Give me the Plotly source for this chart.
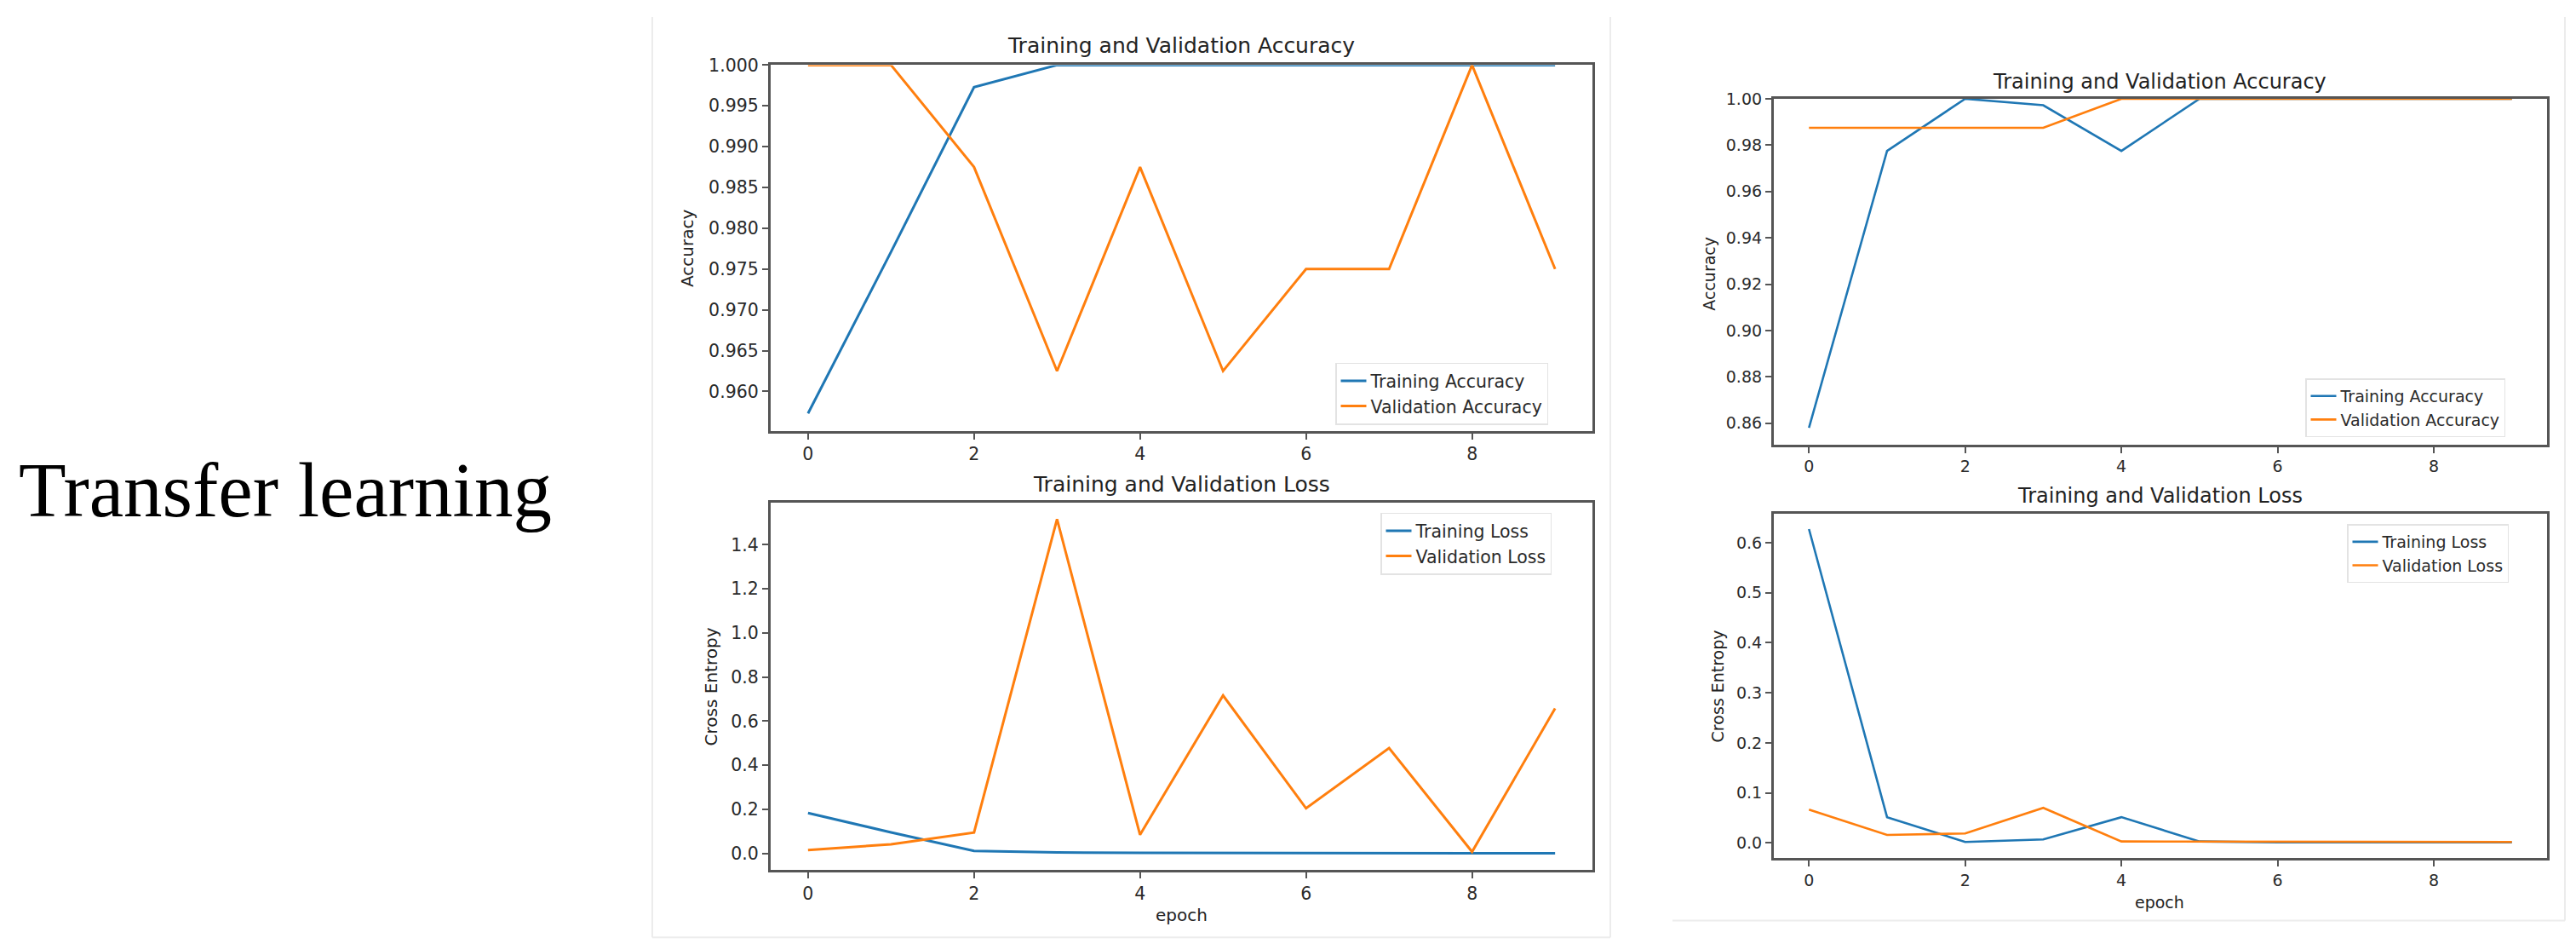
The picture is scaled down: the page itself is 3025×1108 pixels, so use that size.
import plotly.graph_objects as go

W, H = 3025, 1108

epochs = list(range(10))

# left panel (first model)
left_train_acc = [0.9573, 0.9771, 0.9973, 1.0, 1.0, 1.0, 1.0, 1.0, 1.0, 1.0]
left_val_acc = [1.0, 1.0, 0.9875, 0.9625, 0.9875, 0.9625, 0.975, 0.975, 1.0, 0.975]
left_train_loss = [0.183, 0.095, 0.011, 0.004, 0.002, 0.001, 0.001, 0.001, 0.0005, 0.0004]
left_val_loss = [0.015, 0.041, 0.094, 1.516, 0.084, 0.716, 0.204, 0.477, 0.007, 0.657]

# right panel (second model)
right_train_acc = [0.858, 0.9775, 1.0, 0.9972, 0.9775, 1.0, 1.0, 1.0, 1.0, 1.0]
right_val_acc = [0.9875, 0.9875, 0.9875, 0.9875, 1.0, 1.0, 1.0, 1.0, 1.0, 1.0]
right_train_loss = [0.627, 0.0515, 0.002, 0.007, 0.0515, 0.003, 0.001, 0.001, 0.001, 0.001]
right_val_loss = [0.0666, 0.016, 0.019, 0.070, 0.003, 0.003, 0.002, 0.002, 0.002, 0.002]

acc_ticks_left = [0.960, 0.965, 0.970, 0.975, 0.980, 0.985, 0.990, 0.995, 1.000]
loss_ticks_left = [0.0, 0.2, 0.4, 0.6, 0.8, 1.0, 1.2, 1.4]
acc_ticks_right = [0.86, 0.88, 0.90, 0.92, 0.94, 0.96, 0.98, 1.00]
loss_ticks_right = [0.0, 0.1, 0.2, 0.3, 0.4, 0.5, 0.6]
x_ticks = [0, 2, 4, 6, 8]

BLUE = "#1f77b4"
ORANGE = "#ff7f0e"
AXC = "#555555"


def px_x(v):
    return v / W


def px_y(v):
    return 1 - v / H


def auto_range(*series, top=None):
    lo = min(min(s) for s in series)
    hi = max(max(s) for s in series)
    pad = (hi - lo) * 0.05
    return [lo - pad, top if top is not None else hi + pad]


fig = go.Figure()

# panels: (axis id, box in pixels, data, legend names, legend id, line width)
panels = [
    ("", (897, 1862, 57, 491), left_train_acc, left_val_acc,
     ["Training Accuracy", "Validation Accuracy"], "legend", 3),
    ("2", (897, 1862, 576, 1012), left_train_loss, left_val_loss,
     ["Training Loss", "Validation Loss"], "legend2", 3),
    ("3", (2075, 2983, 97, 507), right_train_acc, right_val_acc,
     ["Training Accuracy", "Validation Accuracy"], "legend3", 2.6),
    ("4", (2075, 2983, 589, 998), right_train_loss, right_val_loss,
     ["Training Loss", "Validation Loss"], "legend4", 2.6),
]

for ax, box, tr, va, names, leg, lw in panels:
    fig.add_trace(go.Scatter(x=epochs, y=tr, mode="lines", name=names[0],
                             line=dict(color=BLUE, width=lw),
                             xaxis="x" + ax, yaxis="y" + ax, legend=leg))
    fig.add_trace(go.Scatter(x=epochs, y=va, mode="lines", name=names[1],
                             line=dict(color=ORANGE, width=lw),
                             xaxis="x" + ax, yaxis="y" + ax, legend=leg))

axis_common = dict(showline=True, mirror=True, linecolor=AXC, linewidth=3.2,
                   ticks="outside", ticklen=7, tickwidth=1.5, tickcolor=AXC,
                   showgrid=False, zeroline=False, layer="above traces")

layout = dict(width=W, height=H, margin=dict(l=0, r=0, t=0, b=0),
              paper_bgcolor="white", plot_bgcolor="white",
              font=dict(family="DejaVu Sans", color="#2b2b2b"))

specs = [
    (acc_ticks_left, ".3f", auto_range(left_train_acc, left_val_acc, top=1.0), 20.5),
    (loss_ticks_left, ".1f", auto_range(left_train_loss, left_val_loss), 20.5),
    (acc_ticks_right, ".2f", auto_range(right_train_acc, right_val_acc, top=1.0), 19),
    (loss_ticks_right, ".1f", auto_range(right_train_loss, right_val_loss), 19),
]

for (ax, box, tr, va, names, leg, lw), (yt, fmt, yr, fs) in zip(panels, specs):
    x0, x1, y0, y1 = box
    layout["xaxis" + ax] = dict(axis_common, domain=[px_x(x0), px_x(x1)],
                                anchor="y" + ax, range=[-0.45, 9.45],
                                tickvals=x_ticks, tickfont=dict(size=fs))
    layout["yaxis" + ax] = dict(axis_common, domain=[px_y(y1), px_y(y0)],
                                anchor="x" + ax, range=yr, tickvals=yt,
                                tickformat=fmt, tickfont=dict(size=fs))

legend_style = dict(xanchor="left", yanchor="top", bgcolor="rgba(255,255,255,0.85)",
                    bordercolor="#e3e3e3", borderwidth=1.5, tracegroupgap=2)
layout["legend"] = dict(legend_style, x=px_x(1560), y=px_y(410), font=dict(size=20.5))
layout["legend2"] = dict(legend_style, x=px_x(1613), y=px_y(588), font=dict(size=20.5))
layout["legend3"] = dict(legend_style, x=px_x(2699), y=px_y(429), font=dict(size=19))
layout["legend4"] = dict(legend_style, x=px_x(2748), y=px_y(602), font=dict(size=19))

fig.update_layout(**layout)

annotations = [
    # subplot titles
    ("Training and Validation Accuracy", 1379, 34, 25, 0),
    ("Training and Validation Loss", 1379, 554, 25, 0),
    ("Training and Validation Accuracy", 2528, 77, 24, 0),
    ("Training and Validation Loss", 2528, 568, 24, 0),
    # axis titles
    ("Accuracy", 799, 275, 20, -90),
    ("Cross Entropy", 827, 795, 20, -90),
    ("epoch", 1379, 1066, 20, 0),
    ("Accuracy", 1999, 305, 19, -90),
    ("Cross Entropy", 2009, 794, 19, -90),
    ("epoch", 2528, 1050, 19, 0),
]
for text, x, y, size, ang in annotations:
    fig.add_annotation(text=text, x=px_x(x), y=px_y(y), xref="paper", yref="paper",
                       showarrow=False, xanchor="center", yanchor="middle",
                       textangle=ang, font=dict(size=size, color="#222222"))

fig.add_annotation(text="Transfer learning", x=px_x(12), y=px_y(562),
                   xref="paper", yref="paper", showarrow=False,
                   xanchor="left", yanchor="middle",
                   font=dict(family="Liberation Serif", size=91, color="black"))

# faint frames of the two screenshot panels
frame = dict(color="#ececec", width=2)
for x0, y0, x1, y1 in [(758, 0, 758, 1092), (758, 1092, 1883, 1092),
                       (1883, 0, 1883, 1092), (1956, 1072, 3004, 1072),
                       (3004, 0, 3004, 1072)]:
    fig.add_shape(type="line", xref="paper", yref="paper",
                  x0=px_x(x0), y0=px_y(y0), x1=px_x(x1), y1=px_y(y1), line=frame)

fig.write_html("out.html")
